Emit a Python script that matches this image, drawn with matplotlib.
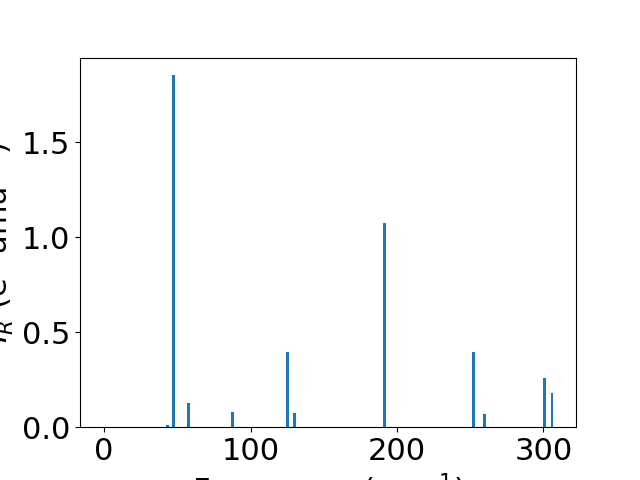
import matplotlib
matplotlib.use('Agg')
import matplotlib.pyplot as plt
import numpy as np

# 频率 (cm^-1) 和红外强度
freq = [0.0, 0.0, 0.0, 43.2, 47.6, 57.9, 87.4, 125.0, 129.8,
        191.4, 252.4, 259.9, 301.0, 305.8]
intensity = [0.0, 0.0, 0.0, 0.01, 1.853, 0.128, 0.08, 0.395, 0.074,
             1.074, 0.395, 0.068, 0.258, 0.179]

plt.rcParams['font.size'] = 22

fig = plt.figure(figsize=(6.4, 4.8), dpi=100)
ax = fig.add_subplot(111)
ax.bar(freq, intensity, width=2)
ax.set_xlabel('Frequency (cm$^{-1}$)')
ax.set_ylabel('$I_R$ (e$^2$ amu$^{-1}$)')

fig.savefig('out.png')
